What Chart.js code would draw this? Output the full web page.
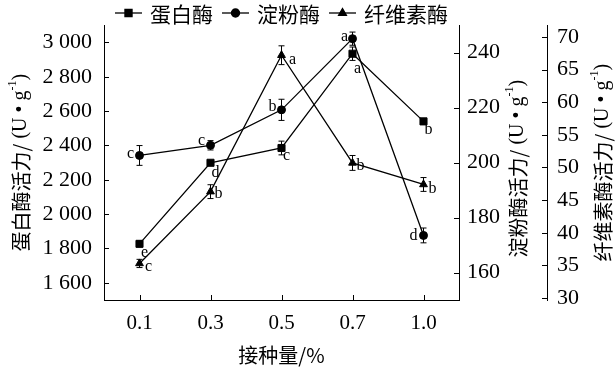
<!DOCTYPE html>
<html><head><meta charset="utf-8">
<script src="https://cdn.jsdelivr.net/npm/chart.js@4"></script>
<style>html,body{margin:0;padding:0;background:#fff}#wrap{width:616px;height:371px}</style>
</head><body><div id="wrap"><canvas id="c" width="616" height="371"></canvas></div>
<script>
// ---- data ----
const categories = ['0.1', '0.3', '0.5', '0.7', '1.0'];
const protease = [1827, 2299, 2385, 2934, 2540];
const proteaseErr = [17, 8, 40, 39, 8];
const proteaseLetters = ['e', 'd', 'c', 'a', 'b'];
const starch = [202.6, 206.3, 219.2, 245.1, 173.5];
const starchErr = [3.6, 1.7, 3.85, 2.4, 2.7];
const starchLetters = ['c', 'c', 'b', 'a', 'd'];
const cellulase = [35.3, 46.3, 67.2, 50.7, 47.4];
const cellulaseErr = [0.63, 1.06, 1.44, 1.14, 1.06];
const cellulaseLetters = ['c', 'b', 'a', 'b', 'b'];
const proteaseTicks = [1600, 1800, 2000, 2200, 2400, 2600, 2800, 3000];
const starchTicks = [160, 180, 200, 220, 240];
const cellulaseTicks = [30, 35, 40, 45, 50, 55, 60, 65, 70];
const seriesNames = ['蛋白酶', '淀粉酶', '纤维素酶'];
const axisTitles = ['蛋白酶活力/', '淀粉酶活力/', '纤维素酶活力/'];
const xTitle = '接种量/%';

// ---- styles / layout ----
const SERIF = "'Liberation Serif', 'Times New Roman', serif";
const CJK = "'Noto Sans CJK SC', sans-serif";
const letterOffsets = [
  {dx: [5, 5, 5, 5, 5], dy: [9, 10, 8, 15, 8]},
  {dx: [-9, -9, -9, -8, -10], dy: [-2, -4, -3, -2, 0]},
  {dx: [9, 8, 11, 8, 9], dy: [3, 2, 5, 3, 4]}
];
const errs = [proteaseErr, starchErr, cellulaseErr];
const letters = [proteaseLetters, starchLetters, cellulaseLetters];
const styles = ['rect', 'circle', 'triangle'];
const radii = [5, 4, 4.5];

function fmt(v) {
  const s = String(v);
  return s.length > 3 ? s.slice(0, s.length - 3) + ' ' + s.slice(-3) : s;
}
function setTicks(arr) { return (scale) => { scale.ticks = arr.map(v => ({value: v})); }; }

function drawMarker(ctx, style, x, y, r) {
  Chart.helpers.drawPoint(ctx, {pointStyle: style, radius: r, rotation: 0, borderWidth: 1}, x, y);
  ctx.fill();
}

function drawTitle(ctx, cx, cy, main) {
  const parts = [
    {t: main, f: '20px ' + CJK, dy: 0},
    {t: ' (U • g', f: '20px ' + SERIF, dy: 0},
    {t: '-1', f: '12px ' + SERIF, dy: -8},
    {t: ')', f: '20px ' + SERIF, dy: 0}
  ];
  let total = 0;
  parts.forEach(p => { ctx.font = p.f; p.w = ctx.measureText(p.t).width; total += p.w; });
  ctx.save();
  ctx.translate(cx, cy);
  ctx.rotate(-Math.PI / 2);
  ctx.textBaseline = 'middle';
  ctx.textAlign = 'left';
  let x = -total / 2;
  parts.forEach(p => { ctx.font = p.f; ctx.fillText(p.t, x, p.dy); x += p.w; });
  ctx.restore();
}

const custom = {
  id: 'custom',
  afterDatasetsDraw(chart) {
    const ctx = chart.ctx;
    ctx.save();
    ctx.strokeStyle = '#000';
    ctx.fillStyle = '#000';
    ctx.lineWidth = 1;
    chart.data.datasets.forEach((ds, di) => {
      const meta = chart.getDatasetMeta(di);
      const sc = chart.scales[ds.yAxisID];
      meta.data.forEach((pt, i) => {
        const v = ds.data[i], e = errs[di][i];
        const y1 = sc.getPixelForValue(v + e), y2 = sc.getPixelForValue(v - e);
        ctx.beginPath();
        ctx.moveTo(pt.x, y1); ctx.lineTo(pt.x, y2);
        ctx.moveTo(pt.x - 3, y1); ctx.lineTo(pt.x + 3, y1);
        ctx.moveTo(pt.x - 3, y2); ctx.lineTo(pt.x + 3, y2);
        ctx.stroke();
        // significance letters
        ctx.font = '16px ' + SERIF;
        ctx.textAlign = 'center';
        ctx.textBaseline = 'middle';
        ctx.fillText(letters[di][i], pt.x + letterOffsets[di].dx[i], pt.y + letterOffsets[di].dy[i]);
      });
    });
    ctx.restore();
  },
  afterDraw(chart) {
    const ctx = chart.ctx;
    const {x, y, y1, y2} = chart.scales;
    const ca = chart.chartArea;
    ctx.save();
    ctx.strokeStyle = '#000';
    ctx.fillStyle = '#000';
    ctx.lineWidth = 1;
    // inward tick marks
    ctx.beginPath();
    y.ticks.forEach(t => { const p = Math.round(y.getPixelForValue(t.value)) + 0.5; ctx.moveTo(y.right, p); ctx.lineTo(y.right + 5, p); });
    [y1, y2].forEach(s => s.ticks.forEach(t => { const p = Math.round(s.getPixelForValue(t.value)) + 0.5; ctx.moveTo(s.left, p); ctx.lineTo(s.left - 5, p); }));
    x.ticks.forEach((t, i) => { const p = Math.round(x.getPixelForTick(i)) + 0.5; ctx.moveTo(p, x.top); ctx.lineTo(p, x.top - 5); });
    ctx.stroke();
    // axis titles
    const cy = (ca.top + ca.bottom) / 2;
    drawTitle(ctx, y.left + 21, cy, axisTitles[0]);
    drawTitle(ctx, y1.left + 59, cy + 6, axisTitles[1]);
    drawTitle(ctx, y2.left + 56, cy, axisTitles[2]);
    ctx.font = '20px ' + CJK;
    ctx.textAlign = 'center';
    ctx.textBaseline = 'middle';
    ctx.fillText(xTitle, (ca.left + ca.right) / 2, 355);
    // legend
    let lx = 115;
    const ly = 13;
    ctx.textAlign = 'left';
    ctx.font = '21px ' + CJK;
    seriesNames.forEach((name, i) => {
      ctx.beginPath();
      ctx.lineWidth = 1.3;
      ctx.moveTo(lx, ly); ctx.lineTo(lx + 27, ly); ctx.stroke();
      drawMarker(ctx, styles[i], lx + 13.5, ly, radii[i]);
      ctx.fillText(name, lx + 35, ly + 1);
      lx += 35 + ctx.measureText(name).width + 9;
    });
    ctx.restore();
  }
};

const tickFont = {family: SERIF, size: 22};
const common = {
  grid: {display: false, drawTicks: false},
  border: {display: true, color: '#000', width: 1}
};

new Chart(document.getElementById('c').getContext('2d'), {
  type: 'line',
  data: {
    labels: categories,
    datasets: [
      {label: seriesNames[0], data: protease, yAxisID: 'y'},
      {label: seriesNames[1], data: starch, yAxisID: 'y1'},
      {label: seriesNames[2], data: cellulase, yAxisID: 'y2'}
    ].map((d, i) => Object.assign(d, {
      borderColor: '#000', backgroundColor: '#000', borderWidth: 1.3,
      pointStyle: styles[i], pointRadius: radii[i], pointBorderWidth: 1,
      pointBackgroundColor: '#000', pointBorderColor: '#000', tension: 0, fill: false
    }))
  },
  options: {
    responsive: false, animation: false, devicePixelRatio: 1,
    layout: {padding: {top: 23, left: 0, right: 0, bottom: 0}},
    plugins: {legend: {display: false}, tooltip: {enabled: false}},
    scales: {
      x: Object.assign({}, common, {
        type: 'category', offset: true,
        ticks: {font: {family: SERIF, size: 21}, color: '#000', padding: 11},
        afterFit(s) { s.height = 71; }
      }),
      y: Object.assign({}, common, {
        position: 'left', min: 1500, max: 3100,
        afterBuildTicks: setTicks(proteaseTicks),
        ticks: {font: tickFont, color: '#000', padding: 12, callback: v => fmt(v)},
        afterFit(s) { s.width = 104; }
      }),
      y1: Object.assign({}, common, {
        position: 'right', weight: 1, min: 150, max: 250,
        afterBuildTicks: setTicks(starchTicks),
        ticks: {font: tickFont, color: '#000', padding: 8},
        afterFit(s) { s.width = 88; }
      }),
      y2: Object.assign({}, common, {
        position: 'right', weight: 2, min: 29.7, max: 71.8,
        afterBuildTicks: setTicks(cellulaseTicks),
        ticks: {font: tickFont, color: '#000', padding: 10},
        afterFit(s) { s.width = 69; }
      })
    }
  },
  plugins: [custom]
});
</script>
</body></html>
